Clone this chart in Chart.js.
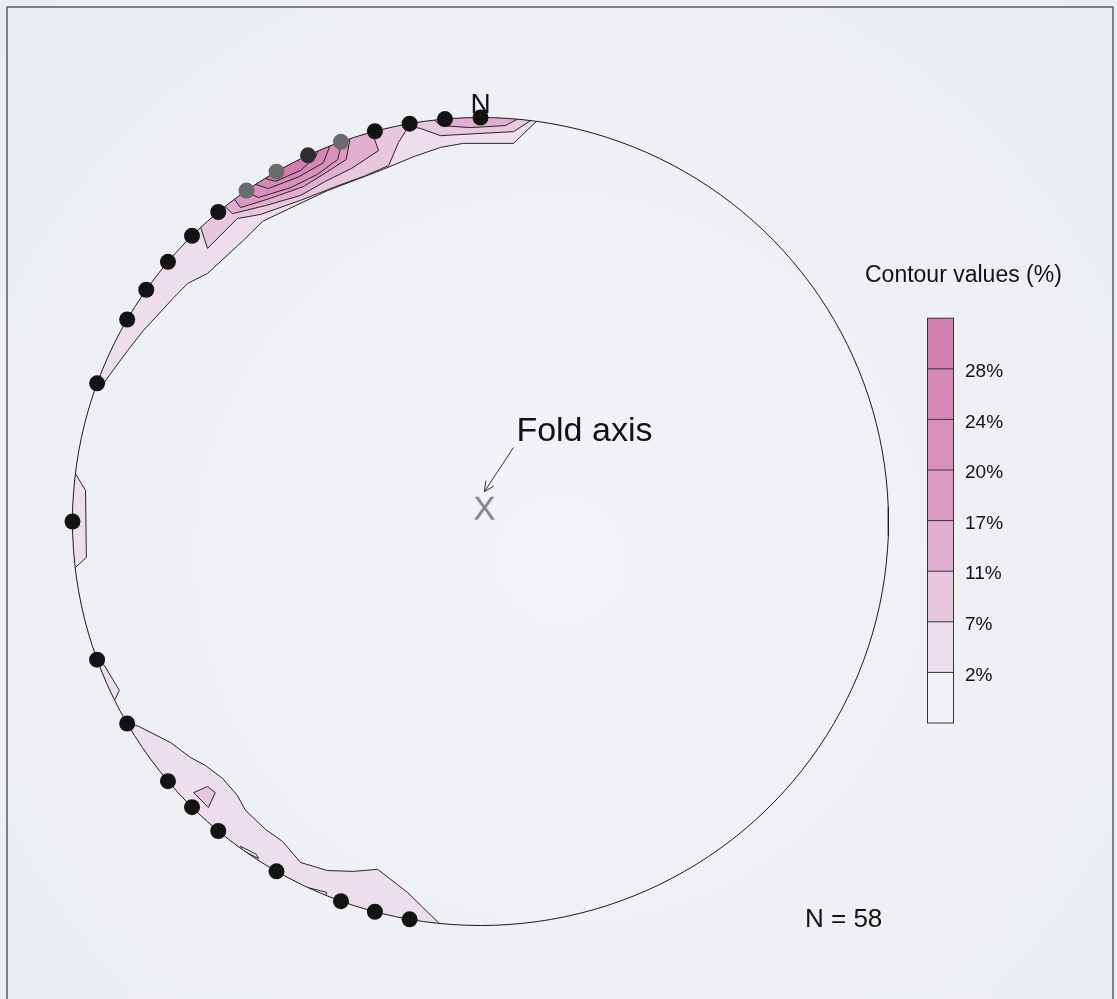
<!DOCTYPE html>
<html>
<head>
<meta charset="utf-8">
<title>Stereonet – poles and contours</title>
<script src="https://cdn.jsdelivr.net/npm/chart.js@4.4.1/dist/chart.umd.min.js"></script>
<style>
  html, body { margin: 0; padding: 0; background: #eef0f3; }
  canvas { display: block; }
</style>
</head>
<body>
<canvas id="net" width="1117" height="999"></canvas>
<script>
// ---------------------------------------------------------------
// Data: poles (trend / plunge, degrees), lower-hemisphere equal-area
// ---------------------------------------------------------------
const poleTrends  = [0, 355, 350, 345, 340, 335, 330, 325, 320, 315, 310, 305,
                     300, 290, 270, 250, 240, 230, 225, 220, 210, 200, 195, 190];
const polePlunges = [0, 0, 0, 0, 0, 0, 0, 0, 0, 0, 0, 0,
                     0, 0, 0, 0, 0, 0, 0, 0, 0, 0, 0, 0];
const sampleCount = 58;

// Fold axis (trend / plunge)
const foldTrend  = 18;
const foldPlunge = 87.5;

// Contour levels shown in the key (bottom to top)
const contourLevels = ['2%', '7%', '11%', '17%', '20%', '24%', '28%'];

// Contour boundaries in net coordinates (east, north), unit primitive circle.
// Open boundaries end on the primitive and are closed along the rim.
const contour2North = [[-0.944, 0.337], [-0.924, 0.342], [-0.865, 0.423], [-0.826, 0.473],
  [-0.752, 0.554], [-0.718, 0.589], [-0.669, 0.614], [-0.581, 0.696], [-0.534, 0.743],
  [-0.453, 0.782], [-0.375, 0.819], [-0.245, 0.869], [-0.164, 0.903], [-0.098, 0.926],
  [-0.042, 0.936], [0.081, 0.936], [0.140, 0.993]];
const contour2West = [[-0.993, 0.119], [-0.968, 0.077], [-0.966, -0.089], [-0.993, -0.114]];
const contour2SouthWest = [[-0.934, -0.349], [-0.922, -0.356], [-0.885, -0.418], [-0.897, -0.443]];
const contour2South = [[-0.863, -0.498], [-0.838, -0.507], [-0.760, -0.547], [-0.711, -0.584],
  [-0.674, -0.604], [-0.632, -0.636], [-0.596, -0.678], [-0.576, -0.715], [-0.527, -0.762],
  [-0.485, -0.792], [-0.441, -0.844], [-0.375, -0.864], [-0.311, -0.866], [-0.252, -0.861],
  [-0.179, -0.918], [-0.098, -0.998]];
const contour7North = [[-0.686, 0.728], [-0.669, 0.676], [-0.596, 0.750], [-0.539, 0.760],
  [-0.441, 0.795], [-0.355, 0.829], [-0.282, 0.856], [-0.225, 0.881], [-0.201, 0.938],
  [-0.176, 0.978], [-0.147, 0.973], [-0.098, 0.955], [-0.012, 0.960], [0.081, 0.965],
  [0.127, 0.995]];
const contour7South = [[-0.703, -0.671], [-0.669, -0.656], [-0.650, -0.671], [-0.667, -0.708]];
const contour11North = [[-0.632, 0.785], [-0.608, 0.762], [-0.527, 0.782], [-0.441, 0.807],
  [-0.380, 0.842], [-0.316, 0.874], [-0.250, 0.918], [-0.267, 0.968]];
const contour11NorthEast = [[-0.118, 0.998], [-0.098, 0.980], [-0.025, 0.975], [0.061, 0.980],
  [0.098, 1.000]];
const contour17North = [[-0.608, 0.804], [-0.588, 0.777], [-0.515, 0.800], [-0.434, 0.829],
  [-0.375, 0.866], [-0.329, 0.896], [-0.319, 0.953]];
const contour20North = [[-0.583, 0.819], [-0.544, 0.802], [-0.466, 0.826], [-0.400, 0.859],
  [-0.350, 0.896], [-0.338, 0.946]];
const contour24North = [[-0.559, 0.837], [-0.520, 0.824], [-0.446, 0.853], [-0.385, 0.888],
  [-0.368, 0.933]];
const contour28North = [[-0.534, 0.851], [-0.502, 0.842], [-0.441, 0.869], [-0.404, 0.903],
  [-0.397, 0.921]];
// Small sub-2% gaps inside the southern band
const gapSouthA = [[-0.588, -0.804], [-0.549, -0.824], [-0.544, -0.834], [-0.583, -0.814]];
const gapSouthB = [[-0.424, -0.906], [-0.377, -0.918], [-0.380, -0.928], [-0.426, -0.913]];

// ---------------------------------------------------------------
// Styles
// ---------------------------------------------------------------
const FONT = '"Liberation Sans", Arial, Helvetica, sans-serif';
const bandColors = ['#f1f2f6', '#ecdeea', '#e8c6dc', '#e1aecf', '#db98c2', '#d88fbc', '#d587b7', '#d27daf'];
const poleShade = { 340: '#6b6b6b', 335: '#2e2e2e', 330: '#6b6b6b', 325: '#6b6b6b' };

// ---------------------------------------------------------------
// Projection helpers
// ---------------------------------------------------------------
const rad = d => d * Math.PI / 180;
function project(trend, plunge) {
  const r = Math.SQRT2 * Math.sin(rad(90 - plunge) / 2);
  return { x: r * Math.sin(rad(trend)), y: r * Math.cos(rad(trend)) };
}
const toPoints = arr => arr.map(([x, y]) => ({ x, y }));
function closedLoop(arr) {
  const pts = toPoints(arr);
  pts.push({ x: arr[0][0], y: arr[0][1] });
  return pts;
}
// Close an open boundary by running back along the outside of the primitive
function rimClosed(arr) {
  const pts = toPoints(arr);
  const first = arr[0], last = arr[arr.length - 1];
  const a1 = Math.atan2(last[1], last[0]);
  const a0 = Math.atan2(first[1], first[0]);
  let d = a0 - a1;
  while (d > Math.PI) d -= 2 * Math.PI;
  while (d <= -Math.PI) d += 2 * Math.PI;
  const steps = 30;
  for (let i = 0; i <= steps; i++) {
    const a = a1 + d * i / steps;
    pts.push({ x: 1.06 * Math.cos(a), y: 1.06 * Math.sin(a) });
  }
  pts.push({ x: first[0], y: first[1] });
  return pts;
}

// Primitive circle (horizontal plane)
const primitive = [];
for (let t = 0; t <= 360; t += 2) primitive.push(project(t, 0));

// Fold-axis marker glyph
const foldGlyph = document.createElement('canvas');
foldGlyph.width = 30; foldGlyph.height = 32;
(() => {
  const g = foldGlyph.getContext('2d');
  g.fillStyle = '#7c7c7c';
  g.font = '33px ' + FONT;
  g.textAlign = 'center';
  g.textBaseline = 'middle';
  g.fillText('X', 15, 17);
})();

// ---------------------------------------------------------------
// Datasets
// ---------------------------------------------------------------
function band(data, level, order) {
  return {
    data, polyFill: bandColors[level], order,
    showLine: true, tension: 0, fill: false,
    borderColor: '#262626', borderWidth: 1,
    pointRadius: 0, pointHoverRadius: 0
  };
}

const datasets = [
  {
    label: 'Poles',
    data: poleTrends.map((t, i) => project(t, polePlunges[i])),
    pointRadius: 8, pointHoverRadius: 8, pointBorderWidth: 0,
    backgroundColor: poleTrends.map(t => poleShade[t] || '#131313'),
    borderColor: poleTrends.map(t => poleShade[t] || '#131313'),
    clip: false, order: 0
  },
  {
    label: 'Fold axis',
    data: [project(foldTrend, foldPlunge)],
    pointStyle: foldGlyph, pointRadius: 15, clip: false, order: 0
  },
  {
    label: 'Primitive',
    data: primitive, showLine: true, tension: 0, fill: false,
    borderColor: '#1a1a1a', borderWidth: 1, pointRadius: 0, clip: false, order: 1
  },
  band(closedLoop(gapSouthA), 0, 2),
  band(closedLoop(gapSouthB), 0, 2),
  band(closedLoop(contour7South), 2, 2),
  band(rimClosed(contour28North), 7, 3),
  band(rimClosed(contour24North), 6, 4),
  band(rimClosed(contour20North), 5, 5),
  band(rimClosed(contour17North), 4, 6),
  band(rimClosed(contour11North), 3, 7),
  band(rimClosed(contour11NorthEast), 3, 7),
  band(rimClosed(contour7North), 2, 8),
  band(rimClosed(contour2North), 1, 9),
  band(rimClosed(contour2West), 1, 9),
  band(rimClosed(contour2SouthWest), 1, 9),
  band(rimClosed(contour2South), 1, 9)
];

// ---------------------------------------------------------------
// Plugins
// ---------------------------------------------------------------
const polygonFill = {
  id: 'polygonFill',
  beforeDatasetDraw(chart, args) {
    const ds = chart.data.datasets[args.index];
    if (!ds.polyFill) return;
    const { ctx } = chart;
    const xs = chart.scales.x, ys = chart.scales.y;
    const cx = xs.getPixelForValue(0), cy = ys.getPixelForValue(0);
    const rx = xs.getPixelForValue(1) - cx, ry = cy - ys.getPixelForValue(1);
    ctx.save();
    ctx.beginPath();
    ctx.ellipse(cx, cy, rx, ry, 0, 0, 2 * Math.PI);
    ctx.clip();
    ctx.beginPath();
    args.meta.data.forEach((p, i) => (i ? ctx.lineTo(p.x, p.y) : ctx.moveTo(p.x, p.y)));
    ctx.closePath();
    ctx.fillStyle = ds.polyFill;
    ctx.fill();
  },
  afterDatasetDraw(chart, args) {
    if (chart.data.datasets[args.index].polyFill) chart.ctx.restore();
  }
};

const decorations = {
  id: 'decorations',
  beforeDraw(chart) {
    const { ctx, width, height } = chart;
    ctx.save();
    const g = ctx.createRadialGradient(560, 560, 60, 560, 560, 820);
    g.addColorStop(0, '#f2f3f6');
    g.addColorStop(1, '#eaedf0');
    ctx.fillStyle = g;
    ctx.fillRect(0, 0, width, height);
    ctx.strokeStyle = '#5e5e5e';
    ctx.lineWidth = 1.5;
    ctx.beginPath();
    ctx.moveTo(7, height); ctx.lineTo(7, 7); ctx.lineTo(1113, 7); ctx.lineTo(1113, height);
    ctx.stroke();
    ctx.restore();
  },
  afterDatasetsDraw(chart) {
    const { ctx } = chart;
    const xs = chart.scales.x, ys = chart.scales.y;
    ctx.save();
    ctx.fillStyle = '#111';

    // North mark
    ctx.font = '28px ' + FONT;
    ctx.textAlign = 'center';
    ctx.textBaseline = 'alphabetic';
    ctx.fillText('N', xs.getPixelForValue(0), ys.getPixelForValue(1) - 5);

    // Fold axis label with arrow
    const p = chart.getDatasetMeta(1).data[0];
    const tip = { x: p.x, y: p.y - 18 }, tail = { x: p.x + 29, y: p.y - 62 };
    ctx.strokeStyle = '#333';
    ctx.lineWidth = 1;
    ctx.beginPath();
    ctx.moveTo(tail.x, tail.y); ctx.lineTo(tip.x, tip.y);
    const ang = Math.atan2(tip.y - tail.y, tip.x - tail.x);
    [0.45, -0.45].forEach(o => {
      ctx.moveTo(tip.x, tip.y);
      ctx.lineTo(tip.x - 11 * Math.cos(ang + o), tip.y - 11 * Math.sin(ang + o));
    });
    ctx.stroke();
    ctx.font = '34px ' + FONT;
    ctx.textAlign = 'left';
    ctx.fillText('Fold axis', p.x + 32, p.y - 69);

    // Sample count
    ctx.font = '26px ' + FONT;
    ctx.fillText('N = ' + sampleCount, 805, 927);

    // Colour key
    ctx.font = '23px ' + FONT;
    ctx.fillText('Contour values (%)', 865, 282);
    const keyLeft = 927, keyW = 26, keyBottom = 723, bandH = 50.6;
    const nb = bandColors.length;
    for (let i = 0; i < nb; i++) {
      ctx.fillStyle = bandColors[i];
      ctx.fillRect(keyLeft, keyBottom - (i + 1) * bandH, keyW, bandH);
    }
    ctx.strokeStyle = '#333';
    ctx.lineWidth = 1;
    ctx.strokeRect(keyLeft + 0.5, keyBottom - nb * bandH, keyW, nb * bandH);
    ctx.fillStyle = '#111';
    ctx.font = '19px ' + FONT;
    ctx.textBaseline = 'middle';
    contourLevels.forEach((lab, i) => {
      const y = keyBottom - (i + 1) * bandH;
      ctx.beginPath();
      ctx.moveTo(keyLeft, y); ctx.lineTo(keyLeft + keyW, y);
      ctx.stroke();
      ctx.fillText(lab, 965, y + 3);
    });
    ctx.restore();
  }
};

// ---------------------------------------------------------------
// Chart
// ---------------------------------------------------------------
new Chart(document.getElementById('net'), {
  type: 'scatter',
  data: { datasets },
  options: {
    responsive: false,
    animation: false,
    events: [],
    layout: { padding: { left: 72.5, right: 228.5, top: 117.5, bottom: 73.5 } },
    scales: {
      x: { type: 'linear', min: -1, max: 1, display: false },
      y: { type: 'linear', min: -1, max: 1, display: false }
    },
    plugins: { legend: { display: false }, tooltip: { enabled: false } }
  },
  plugins: [polygonFill, decorations]
});
</script>
</body>
</html>
